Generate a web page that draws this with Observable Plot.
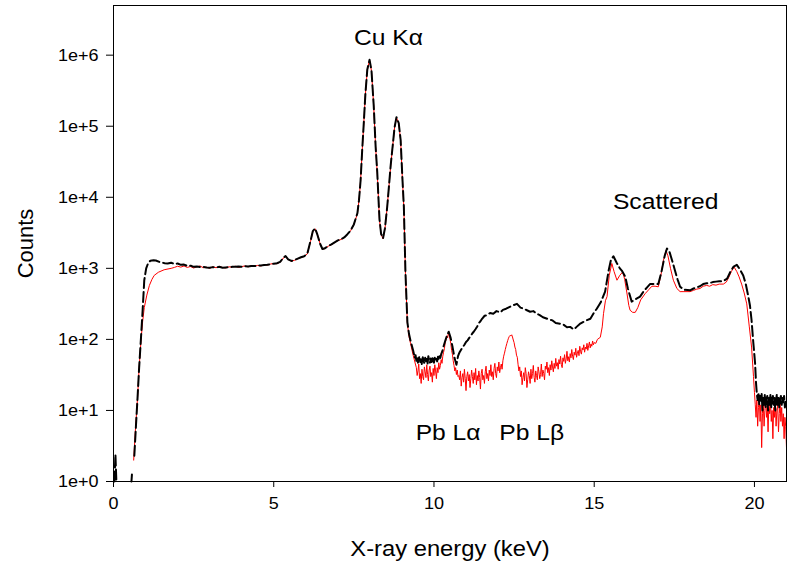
<!DOCTYPE html>
<html><head><meta charset="utf-8">
<script src="https://cdn.jsdelivr.net/npm/d3@7"></script>
<script src="https://cdn.jsdelivr.net/npm/@observablehq/plot@0.6"></script>
<style>body{margin:0;background:#fff}</style>
</head><body><div id="chart"></div>
<script>
// [keV, counts] — sample drawn with the red solid line
const redSeries = [
[0.63,2],[0.68,5],[0.75,15],[0.80,40],[0.86,98],[0.91,180],[0.96,280],[1.04,420],[1.12,575],[1.20,700],[1.27,795],[1.40,880],[1.58,955],[1.80,1000],[1.90,1030],[2.00,1070],[2.10,1040],[2.20,1080],[2.30,1030],[2.40,1060],[2.50,1010],[2.60,1050],[2.70,1080],[2.80,1020],[2.90,1040],[3.00,1000],[3.10,1050],[3.20,1020],[3.30,1060],[3.40,1030],[3.50,1010],[3.60,1050],[3.70,1040],[3.80,1070],[3.90,1030],[4.00,1060],[4.10,1080],[4.20,1050],[4.30,1090],[4.40,1070],[4.50,1100],[4.60,1080],[4.70,1120],[4.80,1110],[4.90,1150],[5.00,1170],[5.10,1160],[5.20,1220],[5.30,1400],[5.37,1480],[5.45,1330],[5.55,1260],[5.65,1300],[5.75,1360],[5.85,1420],[5.95,1470],[6.05,1600],[6.15,2400],[6.22,3300],[6.29,3600],[6.36,3000],[6.45,2200],[6.52,1850],[6.60,1900],[6.70,2050],[6.80,2150],[6.90,2300],[7.00,2450],[7.10,2550],[7.20,2700],[7.30,3000],[7.40,3400],[7.50,4100],[7.61,5900],[7.66,9000],[7.71,17000],[7.76,45000],[7.81,110000],[7.86,280000],[7.92,620000],[7.99,850000],[8.05,600000],[8.12,190000],[8.18,50000],[8.23,22000],[8.27,9000],[8.30,4800],[8.35,3000],[8.41,2600],[8.47,3600],[8.54,7200],[8.60,15000],[8.65,28000],[8.70,46000],[8.77,95000],[8.83,132000],[8.90,110000],[8.96,63000],[9.01,20000],[9.06,7200],[9.11,850],[9.17,166],[9.22,110],[9.27,87],[9.35,60],[9.42,45],
[9.450,40],[9.475,31],[9.500,36],[9.525,45],[9.550,28],[9.575,33],[9.600,24],[9.625,38],[9.650,30],[9.675,27],[9.700,41],[9.725,35],[9.750,29],[9.775,44],[9.800,32],[9.825,26],[9.850,37],[9.875,42],[9.900,30],[9.925,34],[9.950,25],[9.975,39],[10.000,31],[10.025,44],[10.050,36],[10.075,28],[10.100,40],[10.125,34],[10.150,47],[10.175,38],[10.200,43],[10.225,52],[10.250,46],[10.275,58],[10.300,66],[10.325,74],[10.350,90],[10.375,98],[10.400,112],[10.425,105],[10.450,122],[10.475,115],[10.500,100],[10.525,88],[10.550,70],[10.575,62],[10.600,50],[10.625,43],[10.650,36],[10.675,40],[10.700,32],[10.725,37],[10.750,30],
[10.775,31],[10.800,27],[10.825,36],[10.850,22],[10.875,29],[10.900,33],[10.925,25],[10.950,38],[10.975,28],[11.000,19],[11.025,30],[11.050,35],[11.075,26],[11.100,32],[11.125,21],[11.150,28],[11.175,37],[11.200,30],[11.225,24],[11.250,34],[11.275,27],[11.300,39],[11.325,23],[11.350,31],[11.375,26],[11.400,36],[11.425,29],[11.450,20],[11.475,33],[11.500,38],[11.525,27],[11.550,31],[11.575,24],[11.600,35],[11.625,42],[11.650,28],[11.675,33],[11.700,26],[11.725,37],[11.750,31],[11.775,44],[11.800,30],[11.825,35],[11.850,27],[11.875,39],[11.900,46],[11.925,33],[11.950,29],[11.975,41],[12.000,36],[12.025,48],[12.050,34],[12.075,40],[12.100,45],[12.125,38],[12.150,50],[12.175,58],[12.200,64],[12.225,72],[12.250,80],[12.275,88],[12.300,96],[12.325,104],[12.350,110],[12.375,114],[12.400,112],[12.425,116],[12.450,108],[12.475,98],[12.500,90],[12.525,78],[12.550,72],[12.575,60],[12.600,56],[12.625,44],[12.650,36],[12.675,41],
[12.700,30],[12.725,36],[12.750,23],[12.775,29],[12.800,34],[12.825,26],[12.850,40],[12.875,33],[12.900,21],[12.925,27],[12.950,35],[12.975,31],[13.000,24],[13.025,38],[13.050,28],[13.075,33],[13.100,43],[13.125,29],[13.150,25],[13.175,36],[13.200,31],[13.225,27],[13.250,41],[13.275,35],[13.300,28],[13.325,32],[13.350,45],[13.375,30],[13.400,37],[13.425,33],[13.450,27],[13.475,42],[13.500,38],[13.525,48],[13.550,34],[13.575,40],[13.600,31],[13.625,44],[13.650,37],[13.675,50],[13.700,41],[13.725,35],[13.750,46],[13.775,39],[13.800,54],[13.825,42],[13.850,47],[13.875,38],[13.900,52],[13.925,45],[13.950,58],[13.975,44],[14.000,40],[14.025,55],[14.050,49],[14.075,61],[14.100,46],[14.125,53],[14.150,68],[14.175,50],[14.200,57],[14.225,48],[14.250,63],[14.275,55],[14.300,72],[14.325,58],[14.350,52],[14.375,66],[14.400,60],[14.425,75],[14.450,56],[14.475,64],[14.500,70],[14.525,59],[14.550,80],[14.575,67],[14.600,62],[14.625,76],[14.650,71],[14.675,84],[14.700,66],[14.725,78],[14.750,73],[14.775,88],[14.800,70],[14.825,81],[14.850,92],[14.875,76],[14.900,86],[14.925,80],[14.950,95],[14.975,84],[15.000,90],[15.050,88],[15.100,100],
[15.19,107],[15.25,150],[15.29,230],[15.35,350],[15.40,400],[15.47,800],[15.55,1170],[15.62,900],[15.71,680],[15.80,800],[15.89,890],[15.95,700],[16.02,450],[16.08,300],[16.12,257],[16.20,240],[16.28,240],[16.36,280],[16.45,360],[16.59,440],[16.70,500],[16.80,560],[16.90,560],[17.00,550],[17.08,800],[17.16,1300],[17.24,1780],[17.30,1500],[17.38,1000],[17.47,680],[17.58,520],[17.68,470],[17.80,470],[17.99,470],[18.10,490],[18.20,510],[18.30,520],[18.40,560],[18.51,575],[18.60,560],[18.70,590],[18.80,580],[18.90,600],[19.03,600],[19.12,640],[19.20,750],[19.28,900],[19.36,1050],[19.45,900],[19.52,760],[19.60,600],[19.68,450],[19.76,316],[19.84,150],[19.91,78],[19.97,30],
[20.000,18],[20.025,12],[20.050,8],[20.075,14],[20.100,6],[20.125,11],[20.150,16],[20.175,7],[20.200,12],[20.225,3],[20.250,9],[20.275,13],[20.300,6],[20.325,10],[20.350,15],[20.375,8],[20.400,11],[20.425,5],[20.450,12],[20.475,9],[20.500,14],[20.525,7],[20.550,10],[20.575,4],[20.600,11],[20.625,8],[20.650,13],[20.675,6],[20.700,10],[20.725,12],[20.750,5],[20.775,9],[20.800,13],[20.825,7],[20.850,11],[20.875,6],[20.900,9],[20.925,4],[20.950,8],[20.975,6],[21.000,3]
];
// [keV, counts] — sample drawn with the black dashed line (NaN = gap)
const blackSeries = [
[0.03,1],[0.06,2.4],[0.09,1],[0.3,NaN],[0.56,1],[0.575,1.25],[0.6,NaN],
[0.65,2.3],[0.70,6],[0.75,15],[0.80,40],[0.86,110],[0.91,260],[0.96,680],[1.02,1000],[1.08,1180],[1.15,1280],[1.25,1300],[1.32,1290],[1.45,1220],[1.60,1180],[1.69,1170],[1.80,1200],[1.90,1150],[2.00,1170],[2.10,1120],[2.20,1130],[2.30,1080],[2.41,1090],[2.50,1050],[2.60,1060],[2.70,1040],[2.80,1050],[2.90,1030],[3.00,1020],[3.10,1040],[3.20,1030],[3.30,1050],[3.40,1020],[3.50,1030],[3.60,1040],[3.70,1050],[3.80,1050],[3.90,1060],[4.00,1050],[4.10,1070],[4.20,1060],[4.30,1080],[4.40,1080],[4.50,1090],[4.60,1100],[4.70,1110],[4.80,1120],[4.90,1140],[5.00,1160],[5.10,1180],[5.20,1230],[5.30,1410],[5.37,1490],[5.45,1340],[5.55,1270],[5.65,1310],[5.75,1370],[5.85,1430],[5.95,1480],[6.05,1620],[6.15,2450],[6.22,3350],[6.29,3650],[6.36,3000],[6.45,2200],[6.52,1870],[6.60,1920],[6.70,2060],[6.80,2170],[6.90,2320],[7.00,2470],[7.10,2570],[7.20,2720],[7.30,3020],[7.40,3420],[7.50,4150],[7.61,5950],[7.66,9100],[7.71,17200],[7.76,46000],[7.81,112000],[7.86,285000],[7.92,630000],[7.99,860000],[8.05,610000],[8.12,195000],[8.18,51000],[8.23,22500],[8.27,9200],[8.30,4900],[8.35,3050],[8.41,2650],[8.47,3650],[8.54,7300],[8.60,15200],[8.65,28500],[8.70,47000],[8.77,96000],[8.83,134000],[8.90,111000],[8.96,64000],[9.01,20500],[9.06,7400],[9.11,880],[9.17,175],[9.22,120],[9.27,95],
[9.350,70],[9.375,62],[9.400,55],[9.425,60],[9.450,50],[9.475,57],[9.500,47],[9.525,54],[9.550,58],[9.575,48],[9.600,52],[9.625,44],[9.650,56],[9.675,50],[9.700,46],[9.725,55],[9.750,49],[9.775,53],[9.800,45],[9.825,58],[9.850,50],[9.875,47],[9.900,54],[9.925,48],[9.950,56],[9.975,51],[10.000,47],[10.025,55],[10.050,50],[10.075,53],[10.100,49],[10.125,57],[10.150,52],[10.175,58],[10.200,55],[10.225,62],[10.250,66],[10.275,72],[10.300,80],[10.35,95],[10.41,115],[10.46,128],[10.52,105],[10.58,78],[10.64,55],[10.70,44],[10.75,58],[10.80,66],[10.85,72],[10.90,78],[10.95,84],[11.00,92],[11.05,97],[11.10,105],[11.15,112],[11.20,122],[11.24,128],[11.30,140],[11.35,152],[11.40,170],[11.45,180],[11.50,195],[11.58,215],[11.66,220],[11.75,235],[11.85,230],[11.95,250],[12.07,240],[12.15,260],[12.25,270],[12.35,285],[12.45,300],[12.59,316],[12.70,280],[12.80,270],[12.90,257],[13.00,245],[13.10,250],[13.20,230],[13.30,220],[13.40,205],[13.53,195],[13.60,190],[13.70,185],[13.80,170],[13.94,166],[14.05,160],[14.15,148],[14.25,150],[14.36,138],[14.45,150],[14.55,165],[14.65,175],[14.77,186],[14.88,195],[15.00,240],[15.08,270],[15.20,330],[15.34,470],[15.45,930],[15.52,1300],[15.60,1480],[15.70,1200],[15.80,1000],[15.86,930],[15.97,760],[16.05,520],[16.17,340],[16.30,370],[16.43,400],[16.55,480],[16.65,540],[16.74,600],[16.85,600],[17.00,600],[17.10,900],[17.20,1500],[17.27,1900],[17.35,1700],[17.44,1250],[17.52,930],[17.60,700],[17.68,550],[17.80,500],[17.99,490],[18.10,520],[18.20,540],[18.30,560],[18.40,600],[18.51,616],[18.60,620],[18.70,640],[18.80,650],[18.90,660],[19.03,660],[19.15,720],[19.25,900],[19.35,1060],[19.45,1120],[19.55,960],[19.65,794],[19.73,600],[19.81,398],[19.86,300],[19.91,186],[19.96,95],[20.02,46],
[20.050,24],[20.075,17],[20.100,14],[20.125,18],[20.150,12],[20.175,16],[20.200,13],[20.225,17],[20.250,10],[20.275,15],[20.300,12],[20.325,17],[20.350,11],[20.375,14],[20.400,16],[20.425,10],[20.450,15],[20.475,12],[20.500,17],[20.525,11],[20.550,14],[20.575,16],[20.600,12],[20.625,15],[20.650,10],[20.675,14],[20.700,17],[20.725,12],[20.750,15],[20.775,11],[20.800,14],[20.825,16],[20.850,12],[20.875,15],[20.900,13],[20.925,16],[20.950,11],[20.975,14],[21.000,13]
];
const xTicks = [0, 5, 10, 15, 20];
const yTicks = [1, 10, 100, 1000, 10000, 100000, 1000000];
const yTickLabels = ["1e+0", "1e+1", "1e+2", "1e+3", "1e+4", "1e+5", "1e+6"];
const annoText = ["Cu K\u03b1", "Scattered", "Pb L\u03b1", "Pb L\u03b2"];
const annoKeV = [8.58, 17.23, 10.44, 13.05];
const annoCounts = [1.73e6, 8500, 4.9, 4.9];
const xTitle = "X-ray energy (keV)";
const yTitle = "Counts";

const annos = annoText.map((t, i) => ({t, x: annoKeV[i], y: annoCounts[i]}));
const font = "'Liberation Sans', Arial, sans-serif";

const chart = Plot.plot({
  width: 787, height: 568,
  marginLeft: 113, marginRight: 1, marginTop: 5, marginBottom: 87,
  style: {fontFamily: font, fontSize: "17px", color: "#000", background: "#fff", overflow: "visible"},
  x: {domain: [0, 21]},
  y: {type: "log", domain: [1, 5e6]},
  marks: [
    Plot.line(redSeries, {x: d => d[0], y: d => d[1], stroke: "#ff0000", strokeWidth: 1}),
    Plot.line(blackSeries, {x: d => d[0], y: d => d[1], stroke: "#000", strokeWidth: 2, strokeDasharray: "10,4"}),
    Plot.frame({stroke: "#000"}),
    Plot.axisX({ticks: xTicks, tickSize: 6, tickPadding: 9, label: null, fontSize: 17}),
    Plot.axisY({ticks: yTicks, tickFormat: d => yTickLabels[yTicks.indexOf(d)], tickSize: 7, tickPadding: 8, label: null, fontSize: 17}),
    Plot.text(annos, {x: "x", y: "y", text: "t", fontSize: 22, fill: "#000", className: "anno"}),
    Plot.text([xTitle], {frameAnchor: "bottom", lineAnchor: "middle", textAnchor: "middle", dy: 67, fontSize: 22, fill: "#000", className: "xtitle"}),
    Plot.text([yTitle], {frameAnchor: "left", textAnchor: "middle", lineAnchor: "middle", dx: -88, rotate: -90, fontSize: 22, fill: "#000"})
  ]
});
document.getElementById("chart").appendChild(chart);

// the reference lettering is slightly wider than Arial: widen glyphs a little
function widen(selector, k) {
  chart.querySelectorAll(selector).forEach(t => {
    const w = t.getComputedTextLength();
    if (w > 0) {
      t.setAttribute("textLength", (w * k).toFixed(1));
      t.setAttribute("lengthAdjust", "spacingAndGlyphs");
    }
  });
}
widen('g[aria-label="x-axis tick label"] text', 1.06);
widen('g[aria-label="y-axis tick label"] text', 1.06);
widen('.anno text', 1.12);
widen('.xtitle text', 1.08);
</script>
</body></html>
